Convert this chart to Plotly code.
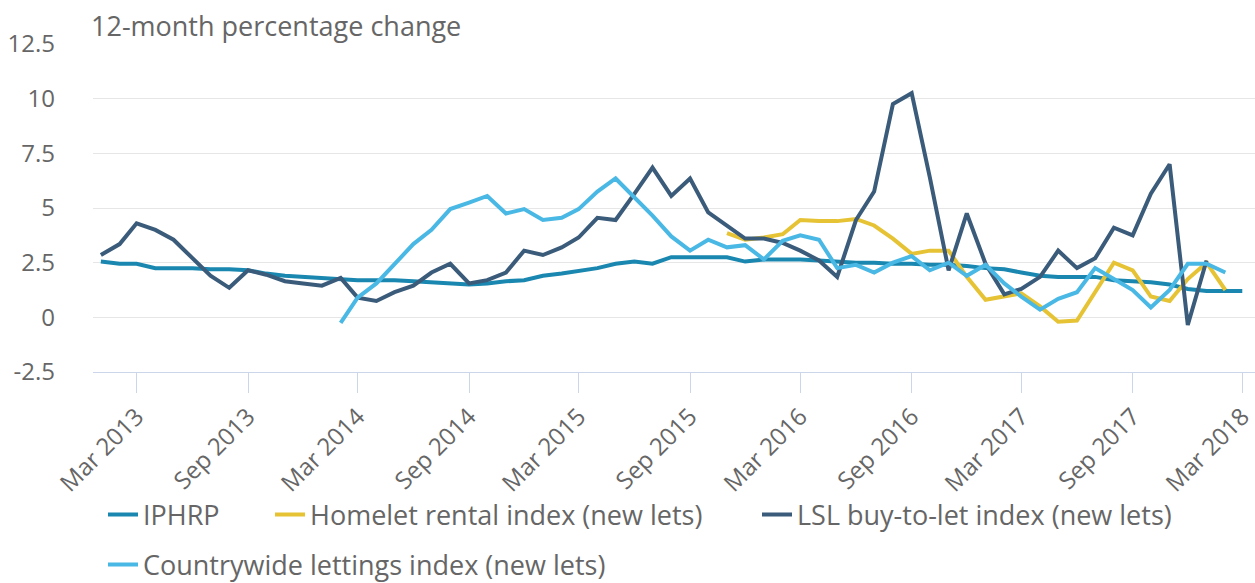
import plotly.graph_objects as go
import pandas as pd

months = pd.date_range("2013-01-01", "2018-03-01", freq="MS")

iphrp = [2.55, 2.45, 2.45, 2.25, 2.25, 2.25, 2.2, 2.2, 2.15, 2.0, 1.9, 1.85,
         1.8, 1.75, 1.7, 1.7, 1.7, 1.65, 1.6, 1.55, 1.5, 1.55, 1.65, 1.7,
         1.9, 2.0, 2.1, 2.25, 2.45, 2.55, 2.45, 2.75, 2.75, 2.75, 2.75, 2.55,
         2.65, 2.65, 2.65, 2.6, 2.55, 2.5, 2.5, 2.45, 2.45, 2.4, 2.4, 2.35,
         2.25, 2.2, 2.05, 1.9, 1.85, 1.85, 1.85, 1.7, 1.65, 1.6, 1.5, 1.3,
         1.2, 1.2, 1.2]

lsl = [2.85, 3.35, 4.3, 4.0, 3.55, 2.7, 1.9, 1.35, 2.15, 1.95, 1.65, 1.55,
       1.45, 1.8, 0.9, 0.75, 1.15, 1.45, 2.05, 2.45, 1.55, 1.7, 2.05, 3.05,
       2.85, 3.2, 3.65, 4.55, 4.45, 5.65, 6.85, 5.55, 6.35, 4.8, 4.2, 3.6,
       3.6, 3.4, 3.05, 2.6, 1.85, 4.45, 5.75, 9.75, 10.25, 6.4, 2.15, 4.75,
       2.45, 1.05, 1.3, 1.85, 3.05, 2.25, 2.7, 4.1, 3.75, 5.65, 7.0, -0.35,
       2.6]

countrywide_start = 13
countrywide = [-0.25, 0.9, 1.55, 2.45, 3.35, 4.0, 4.95, 5.25, 5.55, 4.75, 4.95,
               4.45, 4.55, 4.95, 5.75, 6.35, 5.5, 4.65, 3.7, 3.05, 3.55, 3.2, 3.3,
               2.65, 3.5, 3.75, 3.55, 2.25, 2.4, 2.05, 2.5, 2.8, 2.15, 2.5, 1.9,
               2.4, 1.55, 0.95, 0.35, 0.85, 1.15, 2.25, 1.75, 1.25, 0.45, 1.25,
               2.45, 2.45, 2.05]

homelet_start = 34
homelet = [3.85, 3.55, 3.65, 3.8, 4.45, 4.4, 4.4, 4.5, 4.2, 3.6, 2.9, 3.05,
           3.05, 1.85, 0.8, 0.95, 1.1, 0.5, -0.2, -0.15, 1.15, 2.5, 2.15, 0.95,
           0.75, 1.75, 2.5, 1.25]

x_tick_vals = ["2013-03-01", "2013-09-01", "2014-03-01", "2014-09-01", "2015-03-01",
               "2015-09-01", "2016-03-01", "2016-09-01", "2017-03-01", "2017-09-01",
               "2018-03-01"]
x_tick_text = ["Mar 2013", "Sep 2013", "Mar 2014", "Sep 2014", "Mar 2015", "Sep 2015",
               "Mar 2016", "Sep 2016", "Mar 2017", "Sep 2017", "Mar 2018"]
y_tick_vals = [-2.5, 0, 2.5, 5, 7.5, 10, 12.5]
y_tick_text = ["-2.5", "0", "2.5", "5", "7.5", "10", "12.5"]

FONT = "Open Sans"
GREY = "#666666"

fig = go.Figure()
series = [
    ("IPHRP", months, iphrp, "#1a87b0", "legend"),
    ("Homelet rental index (new lets)", months[homelet_start:homelet_start + len(homelet)], homelet, "#e6c334", "legend2"),
    ("LSL buy-to-let index (new lets)", months[:len(lsl)], lsl, "#3b5b7b", "legend3"),
    ("Countrywide lettings index (new lets)", months[countrywide_start:countrywide_start + len(countrywide)], countrywide, "#4ab8e4", "legend4"),
]
for name, xs, ys, color, lg in series:
    fig.add_trace(go.Scatter(x=xs, y=ys, name=name, mode="lines", showlegend=True,
                             line=dict(color=color, width=4), legend=lg))

W, H = 1255, 583
L, R, T, B = 93, 0, 44, 211
pw, ph = W - L - R, H - T - B

def fx(px):
    return (px - L) / pw

def fy(py):
    return (H - B - py) / ph

leg_common = dict(orientation="h", xanchor="left", yanchor="middle",
                  font=dict(family=FONT, size=27, color=GREY), bgcolor="rgba(0,0,0,0)")
fig.update_layout(
    width=W, height=H,
    margin=dict(l=L, r=R, t=T, b=B, autoexpand=False),
    showlegend=True,
    plot_bgcolor="white", paper_bgcolor="white",
    font=dict(family=FONT, color=GREY),
    legend=dict(x=fx(103), y=fy(515), **leg_common),
    legend2=dict(x=fx(270), y=fy(515), **leg_common),
    legend3=dict(x=fx(757), y=fy(515), **leg_common),
    legend4=dict(x=fx(103), y=fy(565), **leg_common),
    annotations=[dict(text="12-month percentage change", xref="paper", yref="paper",
                      x=fx(89), y=fy(25), xanchor="left", yanchor="middle", showarrow=False,
                      font=dict(family=FONT, size=27, color=GREY))],
    xaxis=dict(type="date", range=["2012-12-19", "2018-03-22"], automargin=False,
               tickvals=x_tick_vals, ticktext=x_tick_text, tickangle=-45,
               ticklabeloverflow="allow",
               showgrid=False, showline=True, linecolor="#ccd6eb", linewidth=1,
               ticks="outside", ticklen=20, tickcolor="#ccd6eb", tickwidth=1,
               tickfont=dict(family=FONT, size=24, color=GREY), zeroline=False),
    yaxis=dict(range=[-2.5, 12.5], tickvals=y_tick_vals, ticktext=y_tick_text,
               automargin=False,
               showgrid=True, gridcolor="#e6e6e6", gridwidth=1, zeroline=False,
               showline=False, ticks="", ticklabelstandoff=37,
               tickfont=dict(family=FONT, size=24, color=GREY)),
)

fig.write_html("out.html", config={"displayModeBar": False},
               post_script="document.body.style.margin='0';document.body.style.overflow='hidden';")
